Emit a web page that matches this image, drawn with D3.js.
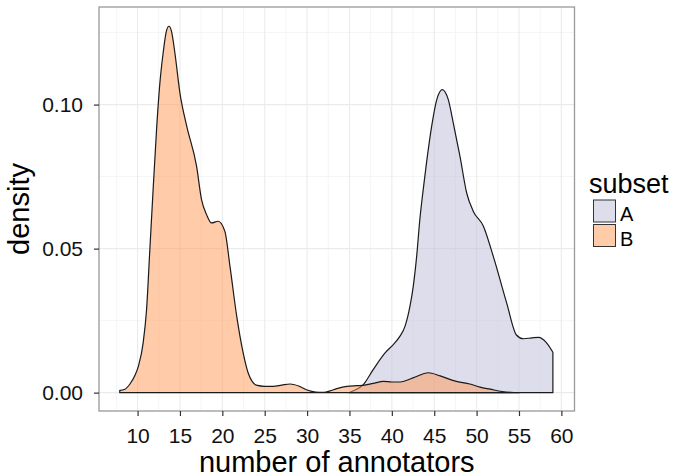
<!DOCTYPE html>
<html><head><meta charset="utf-8">
<script src="https://cdn.jsdelivr.net/npm/d3@7"></script>
<style>body{margin:0;background:#fff}svg{display:block}text{font-family:"Liberation Sans",Arial,sans-serif}</style>
</head><body><svg id="c" width="680" height="476"></svg>
<script>
// ---- data ----
const seriesNames = ["A", "B"];
const xTicks = [10, 15, 20, 25, 30, 35, 40, 45, 50, 55, 60];
const yTicks = [0.00, 0.05, 0.10];
const bX = [7.9, 8.5, 9.1, 9.7, 10.1, 10.66, 11.06, 11.45, 11.77, 12.24, 12.6, 13.02, 13.4, 13.7, 14.0, 14.4, 15.0, 15.8, 16.96, 17.55, 18.14, 18.73, 19.5, 20.3, 20.9, 21.7, 22.46, 23.05, 23.5, 24.0, 25.0, 26.0, 27.0, 28.0, 29.0, 30.0, 31.0, 32.0, 32.7, 33.5, 34.7, 35.85, 36.6, 37.8, 39.0, 40.0, 41.0, 42.5, 44.3, 45.7, 47.5, 49.2, 50.4, 51.6, 53.0, 54.0, 55.0];
const bY = [0.0008, 0.0012, 0.0030, 0.0060, 0.0092, 0.0173, 0.0288, 0.0497, 0.067, 0.0913, 0.1064, 0.118, 0.1255, 0.1272, 0.1255, 0.118, 0.104, 0.0925, 0.0786, 0.067, 0.0618, 0.0589, 0.0595, 0.056, 0.0439, 0.0265, 0.0138, 0.0068, 0.0040, 0.0026, 0.0022, 0.0022, 0.0026, 0.0030, 0.0023, 0.0009, 0.0002, 0.0001, 0.0006, 0.0014, 0.0022, 0.0024, 0.0025, 0.0032, 0.0039, 0.0037, 0.0037, 0.0051, 0.0069, 0.0058, 0.0040, 0.0030, 0.0019, 0.0012, 0.0004, 0.0001, 0.0];
const aX = [35.0, 35.6, 36.6, 37.8, 39.2, 40.17, 40.96, 41.55, 42.14, 42.53, 42.93, 43.3, 43.7, 44.1, 44.7, 45.3, 45.95, 46.66, 47.25, 48.04, 48.83, 49.6, 50.8, 51.97, 53.55, 54.7, 55.5, 56.5, 57.3, 58.28, 59.0];
const aY = [0.0, 0.0008, 0.0027, 0.0080, 0.0138, 0.0167, 0.0196, 0.0230, 0.0300, 0.0370, 0.0474, 0.0600, 0.0705, 0.0800, 0.0925, 0.1017, 0.1052, 0.1017, 0.0936, 0.0820, 0.0693, 0.0630, 0.0578, 0.0473, 0.0311, 0.0200, 0.0187, 0.0190, 0.0192, 0.0172, 0.0140];
const fills = {A: "rgb(187,187,217)", B: "rgb(255,151,83)"};

// ---- layout ----
const svg = d3.select("#c");
const L = 99, R = 574.5, T = 7, B = 411;
const x = d3.scaleLinear().domain([5.45, 61.55]).range([L, R]);
const y = d3.scaleLinear().domain([-0.006375, 0.133875]).range([B, T]);

svg.append("rect").attr("width", 680).attr("height", 476).attr("fill", "#fff");

// grid
const g = svg.append("g");
const minorX = d3.range(7.5, 61, 5), minorY = [0.025, 0.075, 0.125];
g.selectAll(".mx").data(minorX).enter().append("line").attr("x1", d => x(d)).attr("x2", d => x(d)).attr("y1", T).attr("y2", B).attr("stroke", "#f5f5f5").attr("stroke-width", 1);
g.selectAll(".my").data(minorY).enter().append("line").attr("y1", d => y(d)).attr("y2", d => y(d)).attr("x1", L).attr("x2", R).attr("stroke", "#f5f5f5").attr("stroke-width", 1);
g.selectAll(".Mx").data(xTicks).enter().append("line").attr("x1", d => x(d)).attr("x2", d => x(d)).attr("y1", T).attr("y2", B).attr("stroke", "#ebebeb").attr("stroke-width", 1.1);
g.selectAll(".My").data(yTicks).enter().append("line").attr("y1", d => y(d)).attr("y2", d => y(d)).attr("x1", L).attr("x2", R).attr("stroke", "#ebebeb").attr("stroke-width", 1.1);

// densities
const area = d3.area().x(d => x(d[0])).y0(y(0)).y1(d => y(d[1])).curve(d3.curveMonotoneX);
const dataA = aX.map((v, i) => [v, aY[i]]);
const dataB = bX.map((v, i) => [v, bY[i]]);
[["A", dataA], ["B", dataB]].forEach(([k, d]) => {
  svg.append("path").attr("d", area(d)).attr("fill", fills[k]).attr("fill-opacity", 0.5)
    .attr("stroke", "#1a1a1a").attr("stroke-width", 1.2).attr("stroke-linejoin", "round");
});

// panel border
svg.append("rect").attr("x", L).attr("y", T).attr("width", R - L).attr("height", B - T)
  .attr("fill", "none").attr("stroke", "#999").attr("stroke-width", 1.3);

// axes
const xa = svg.append("g").attr("transform", `translate(0,${B})`)
  .call(d3.axisBottom(x).tickValues(xTicks).tickSize(5).tickPadding(12).tickFormat(d3.format("d")));
const ya = svg.append("g").attr("transform", `translate(${L},0)`)
  .call(d3.axisLeft(y).tickValues(yTicks).tickSize(5).tickPadding(11).tickFormat(d3.format(".2f")));
[xa, ya].forEach(a => {
  a.select(".domain").remove();
  a.selectAll(".tick line").attr("stroke", "#333").attr("stroke-width", 1.2);
  a.selectAll(".tick text").attr("fill", "#111").style("font-size", "21px").style("font-family", "Liberation Sans, Arial, sans-serif");
});

// titles
svg.append("text").attr("x", (L + R) / 2).attr("y", 471.5).attr("text-anchor", "middle")
  .style("font-size", "29px").attr("fill", "#000").text("number of annotators");
svg.append("text").attr("transform", `translate(29,${(T + B) / 2}) rotate(-90)`).attr("text-anchor", "middle")
  .style("font-size", "29px").attr("fill", "#000").text("density");

// legend
svg.append("text").attr("x", 589).attr("y", 193).style("font-size", "27px").attr("fill", "#000").text("subset");
seriesNames.forEach((k, i) => {
  const ky = 200 + i * 24.5;
  svg.append("rect").attr("x", 593.5).attr("y", ky).attr("width", 22).attr("height", 22)
    .attr("fill", fills[k]).attr("fill-opacity", 0.5).attr("stroke", "#333").attr("stroke-width", 1);
  svg.append("text").attr("x", 620).attr("y", ky + 21).style("font-size", "20px").attr("fill", "#000").text(k);
});
</script></body></html>
